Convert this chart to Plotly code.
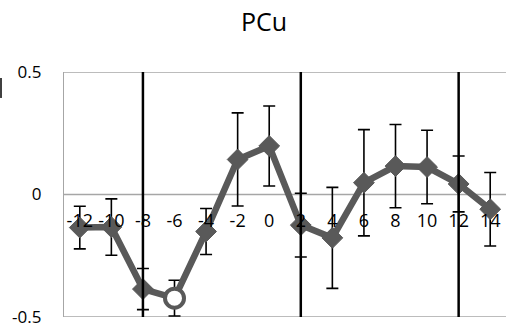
import plotly.graph_objects as go

# ---- data ----
categories = [-12, -10, -8, -6, -4, -2, 0, 2, 4, 6, 8, 10, 12, 14]
tick_labels = [str(c) for c in categories]
values = [-0.135, -0.133, -0.386, -0.423, -0.151, 0.143, 0.198, -0.125, -0.177, 0.048, 0.116, 0.112, 0.043, -0.060]
errors = [0.087, 0.115, 0.084, 0.073, 0.094, 0.190, 0.163, 0.130, 0.206, 0.217, 0.170, 0.150, 0.114, 0.150]
open_point = -6          # highlighted (open-circle) category
event_lines = [-8, 2, 12]
y_ticks = [-0.5, 0, 0.5]
y_tick_labels = ["-0.5", "0", "0.5"]
title_text = "PCu"

GRAY = "#595959"
GRID = "#a6a6a6"
FONT = "Open Sans"

fig = go.Figure()
fig.add_trace(go.Scatter(
    x=categories, y=values,
    mode="lines+markers",
    line=dict(color=GRAY, width=6.5),
    marker=dict(symbol="diamond", size=16, color=GRAY, opacity=1,
                line=dict(color=GRAY, width=1)),
    error_y=dict(type="data", array=errors, visible=True,
                 color="black", thickness=1.6, width=6),
    cliponaxis=False,
    showlegend=False,
))
i = categories.index(open_point)
fig.add_trace(go.Scatter(
    x=[categories[i]], y=[values[i]],
    mode="markers",
    marker=dict(symbol="circle", size=19, color="white", opacity=1,
                line=dict(color=GRAY, width=4)),
    cliponaxis=False,
    showlegend=False,
))

shapes = []
for yt in y_ticks:
    shapes.append(dict(type="line", xref="paper", yref="y", x0=0, x1=1, y0=yt, y1=yt,
                       line=dict(color=GRID, width=1.3), layer="below"))
for ev in event_lines:
    shapes.append(dict(type="line", xref="x", yref="paper", x0=ev, x1=ev, y0=0, y1=1,
                       line=dict(color="black", width=2.5), layer="above"))
# cropped fragment of the axis title at far left
shapes.append(dict(type="line", xref="paper", yref="paper", x0=-0.1425, x1=-0.1425,
                   y0=0.894, y1=0.9755, line=dict(color="#404040", width=2)))

fig.update_layout(
    width=509, height=331,
    margin=dict(l=64, r=3, t=72, b=14),
    paper_bgcolor="white", plot_bgcolor="white",
    title=dict(text=title_text, x=264/509, xanchor="center", y=1-22/331, yanchor="middle",
               font=dict(family=FONT, size=25, color="#000000")),
    shapes=shapes,
    xaxis=dict(range=[-13, 15], tickvals=categories, ticktext=tick_labels,
               anchor="free", position=0.5, showline=False, showgrid=False,
               zeroline=False, ticks="", ticklabelstandoff=13,
               tickfont=dict(family=FONT, size=18, color="#000000")),
    yaxis=dict(range=[-0.5, 0.5], tickvals=y_ticks, ticktext=y_tick_labels,
               showgrid=False, zeroline=False, showline=True, linecolor=GRID, linewidth=1.3,
               ticks="", ticklabelstandoff=18,
               tickfont=dict(family=FONT, size=17, color="#000000")),
)

fig.write_html("out.html")
